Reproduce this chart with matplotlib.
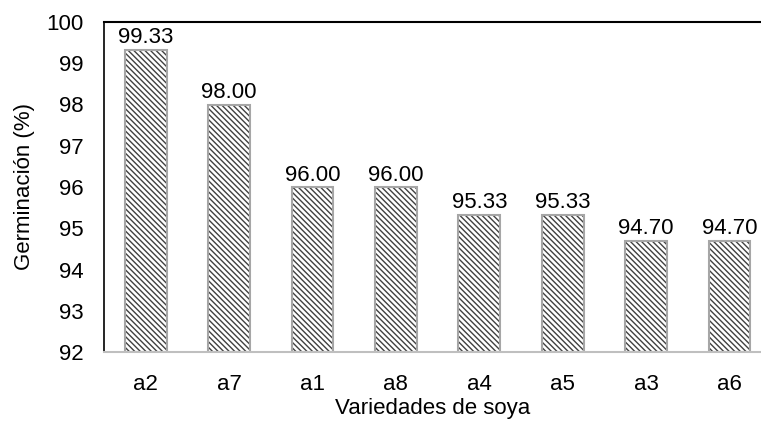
import numpy as np
import matplotlib.pyplot as plt

plt.rcParams['font.family'] = ['Liberation Sans', 'DejaVu Sans']
plt.rcParams['hatch.linewidth'] = 1.0

# Data
varieties = ["a2", "a7", "a1", "a8", "a4", "a5", "a3", "a6"]
germination = [99.33, 98.00, 96.00, 96.00, 95.33, 95.33, 94.70, 94.70]
y_ticks = [92, 93, 94, 95, 96, 97, 98, 99, 100]

fs = 16

fig = plt.figure(figsize=(7.61, 4.21), dpi=100)
ax = fig.add_axes([104 / 761, 1 - 352 / 421, 1 - 104 / 761, 330 / 421])

x = np.arange(len(varieties))
base = 92

# hatched fill
ax.bar(x, np.array(germination) - base, bottom=base, width=0.5,
       facecolor="white", edgecolor="#404040", hatch="\\\\\\\\\\\\", linewidth=0)
# grey outline
bars = ax.bar(x, np.array(germination) - base, bottom=base, width=0.5,
              facecolor="none", edgecolor="#a6a6a6", linewidth=1.5)

labels = ["%.2f" % v for v in germination]
ax.bar_label(bars, labels=labels, padding=1, fontsize=fs)

ax.set_ylim(92, 100)
ax.set_xlim(-0.5, (761 - 104) / 83.4 - 0.5)
ax.set_yticks(y_ticks)
ax.set_xticks(x)
ax.set_xticklabels(varieties)
ax.tick_params(axis="both", length=0, labelsize=fs)
ax.tick_params(axis="y", pad=15)
ax.tick_params(axis="x", pad=16)

ax.spines["right"].set_visible(False)
ax.spines["top"].set_linewidth(1.5)
ax.spines["left"].set_linewidth(1.2)
ax.spines["bottom"].set_color("#bfbfbf")
ax.spines["bottom"].set_linewidth(1.5)

ax.set_ylabel("Germinación (%)", fontsize=fs, labelpad=8)
ax.set_xlabel("Variedades de soya", fontsize=fs, labelpad=2)

fig.savefig("out.png", dpi=100)
